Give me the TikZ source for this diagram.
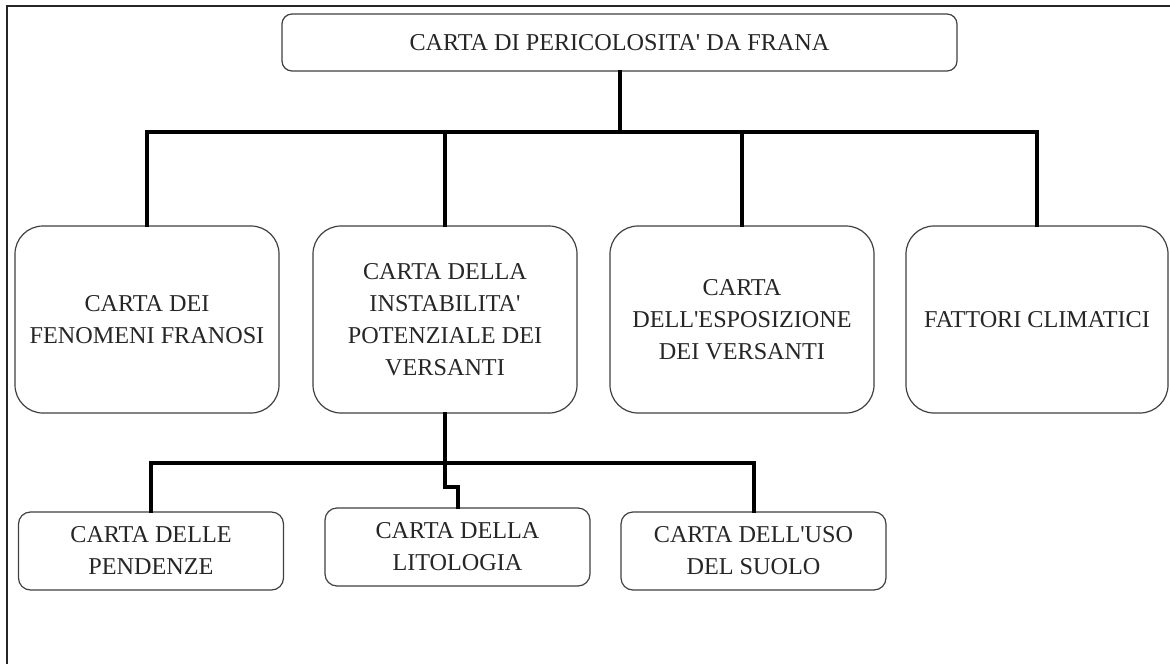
\documentclass[tikz,border=0pt]{standalone}
\usepackage{fontspec}
\setmainfont{Liberation Serif}
\newcommand{\aps}{\textquotesingle}
\begin{document}
\begin{tikzpicture}[x=1pt,y=-1pt,
  every node/.style={font=\fontsize{24.2}{32}\selectfont, text=black!85, align=center},
  bigbox/.style={draw=black!75, line width=1.2pt, rounded corners=28pt, inner sep=0pt, minimum width=264pt, minimum height=187pt},
  smallbox/.style={draw=black!75, line width=1.2pt, rounded corners=12pt, inner sep=0pt, minimum width=265pt, minimum height=78pt},
  topbox/.style={draw=black!75, line width=1.2pt, rounded corners=10pt, inner sep=0pt, minimum width=675pt, minimum height=57pt},
  conn/.style={draw=black, line width=4pt, line cap=rect, line join=miter},
  frame/.style={draw=black!85, line width=2pt}]
\useasboundingbox (0,0) rectangle (1170,664);
\fill[white] (0,0) rectangle (1170,664);
% outer frame
\coordinate (fbl) at (7,664);
\coordinate (ftl) at (7,6);
\coordinate (ftr) at (1170,6);
\draw[frame] (fbl) -- (ftl) -- (ftr);
% nodes
\node[topbox] (top) at (619.5,42.5) {CARTA DI PERICOLOSITA\aps{} DA FRANA};
\node[bigbox] (m1) at (147,319.5) {CARTA DEI\\FENOMENI FRANOSI};
\node[bigbox] (m2) at (445,319.5) {CARTA DELLA\\INSTABILITA\aps\\POTENZIALE DEI\\VERSANTI};
\node[bigbox] (m3) at (742,319.5) {CARTA\\DELL\aps ESPOSIZIONE\\DEI VERSANTI};
\node[bigbox, minimum width=262pt] (m4) at (1037,319.5) {FATTORI CLIMATICI};
\node[smallbox] (b1) at (151,551) {CARTA DELLE\\PENDENZE};
\node[smallbox] (b2) at (457.5,547) {CARTA DELLA\\LITOLOGIA};
\node[smallbox] (b3) at (753.5,551) {CARTA DELL\aps USO\\DEL SUOLO};
% helper coordinates
\coordinate (h) at (0,132);
\coordinate (l) at (0,463);
\coordinate (j) at (0,487);
% upper connectors
\draw[conn] (top.south) -- (top.south |- h);
\draw[conn] (m1.north) -- (m1.north |- h) -- (m4.north |- h) -- (m4.north);
\draw[conn] (m2.north |- h) -- (m2.north);
\draw[conn] (m3.north |- h) -- (m3.north);
% lower connectors
\draw[conn] (m2.south) -- (m2.south |- l);
\draw[conn] (b1.north) -- (b1.north |- l) -- (b3.north |- l) -- (b3.north);
\draw[conn] (m2.south |- l) -- (m2.south |- j) -- (b2.north |- j) -- (b2.north);
\end{tikzpicture}
\end{document}
